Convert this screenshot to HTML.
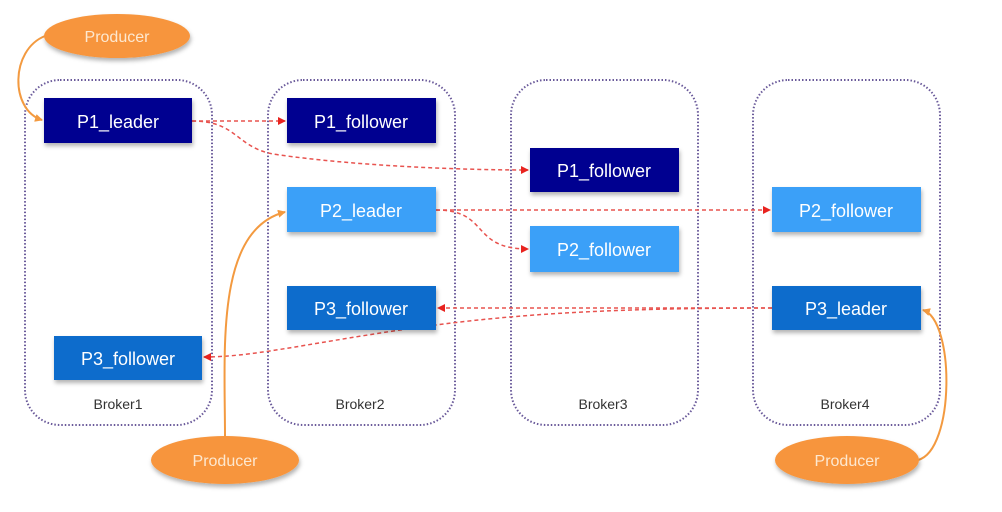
<!DOCTYPE html>
<html><head><style>html,body{margin:0;padding:0;background:#fff}svg{display:block}</style></head><body>
<svg width="1002" height="512" viewBox="0 0 1002 512" xmlns="http://www.w3.org/2000/svg" font-family="Liberation Sans, sans-serif">
<defs>
<marker id="r" markerWidth="8" markerHeight="8" refX="7" refY="4" orient="auto" markerUnits="userSpaceOnUse"><path d="M0,0 L8,4 L0,8z" fill="#e8231f"/></marker>
<marker id="o" markerWidth="8" markerHeight="8" refX="7" refY="4" orient="auto" markerUnits="userSpaceOnUse"><path d="M0,0 L8,4 L0,8z" fill="#f39a40"/></marker>
<filter id="s" x="-10%" y="-10%" width="120%" height="140%"><feDropShadow dx="1" dy="3" stdDeviation="2" flood-color="#000" flood-opacity="0.3"/></filter>
</defs>
<g fill="none" stroke="#6a5a9a" stroke-width="2" stroke-dasharray="1.5 2">
<rect x="25" y="80" width="187" height="345" rx="35"/>
<rect x="268" y="80" width="187" height="345" rx="35"/>
<rect x="511" y="80" width="187" height="345" rx="35"/>
<rect x="753" y="80" width="187" height="345" rx="35"/>
</g>
<g font-size="14" fill="#333" text-anchor="middle">
<text x="118" y="409">Broker1</text><text x="360" y="409">Broker2</text><text x="603" y="409">Broker3</text><text x="845" y="409">Broker4</text>
</g>
<g fill="none" stroke="#e8534f" stroke-width="1.5" stroke-dasharray="4 3">
<path d="M192,121 L285,121" marker-end="url(#r)"/>
<path d="M192,121 C240,121 235,150 280,155 C350,165 450,170 528,170" marker-end="url(#r)"/>
<path d="M436,210 L770,210" marker-end="url(#r)"/>
<path d="M436,210 C490,210 470,249 528,249" marker-end="url(#r)"/>
<path d="M772,308 L438,308" marker-end="url(#r)"/>
<path d="M772,308 C600,308 500,315 400,330 C300,345 250,357 204,357" marker-end="url(#r)"/>
</g>
<g fill="none" stroke="#f39a40" stroke-width="2">
<path d="M45,36 C10,50 10,110 42,120" marker-end="url(#o)"/>
<path d="M225,437 C225,350 215,230 285,212" marker-end="url(#o)"/>
<path d="M918,460 C955,450 955,320 923,310" marker-end="url(#o)"/>
</g>
<g filter="url(#s)">
<ellipse cx="117" cy="36" rx="73" ry="22" fill="#f7953c"/>
<ellipse cx="225" cy="460" rx="74" ry="24" fill="#f7953c"/>
<ellipse cx="847" cy="460" rx="72" ry="24" fill="#f7953c"/>
<rect x="44" y="98" width="148" height="45" fill="#060690"/>
<rect x="287" y="98" width="149" height="45" fill="#060690"/>
<rect x="530" y="148" width="149" height="44" fill="#060690"/>
<rect x="287" y="187" width="149" height="45" fill="#3aa0f8"/>
<rect x="530" y="226" width="149" height="46" fill="#3aa0f8"/>
<rect x="772" y="187" width="149" height="45" fill="#3aa0f8"/>
<rect x="287" y="286" width="149" height="44" fill="#0a6ccc"/>
<rect x="772" y="286" width="149" height="44" fill="#0a6ccc"/>
<rect x="54" y="336" width="148" height="44" fill="#0a6ccc"/>
</g>
<g font-size="18" fill="#fff" text-anchor="middle">
<text x="118" y="128">P1_leader</text>
<text x="361" y="128">P1_follower</text>
<text x="604" y="177">P1_follower</text>
<text x="361" y="217">P2_leader</text>
<text x="604" y="256">P2_follower</text>
<text x="846" y="217">P2_follower</text>
<text x="361" y="315">P3_follower</text>
<text x="846" y="315">P3_leader</text>
<text x="128" y="365">P3_follower</text>
<g font-size="16" fill="#fde8d0"><text x="117" y="42">Producer</text><text x="225" y="466">Producer</text><text x="847" y="466">Producer</text></g>
</g>
</svg>
</body></html>
